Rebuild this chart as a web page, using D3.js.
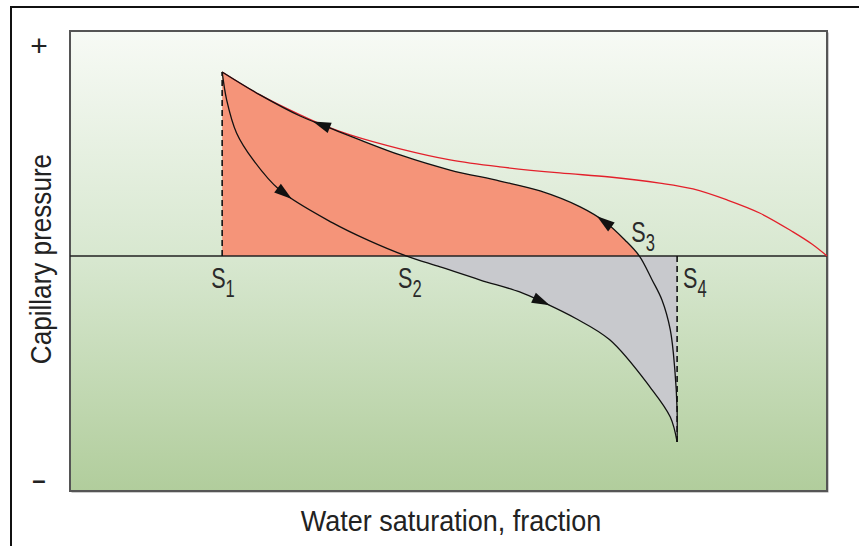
<!DOCTYPE html>
<html>
<head>
<meta charset="utf-8">
<script src="https://cdn.jsdelivr.net/npm/d3@7"></script>
<style>
  body { margin: 0; background: #fff; }
  svg { display: block; font-family: "Liberation Sans", Arial, sans-serif; }
</style>
</head>
<body>
<div id="chart"></div>
<script>
// saturation end points marked on the zero line
const satNames = ["1", "2", "3", "4"];
const satValues = [0.201, 0.444, 0.752, 0.802];

// [water saturation, capillary pressure] (pressure scaled to +-1)
const drainageCurve = [
  [0.201, 0.818], [0.251, 0.716], [0.304, 0.627], [0.337, 0.578], [0.370, 0.538],
  [0.436, 0.476], [0.502, 0.427], [0.568, 0.396], [0.647, 0.369], [0.713, 0.351],
  [0.779, 0.324], [0.823, 0.298], [0.868, 0.249], [0.911, 0.191], [0.955, 0.107],
  [0.980, 0.053], [1.000, 0.000]
];
const upperCurve = [
  [0.201, 0.818], [0.251, 0.716], [0.304, 0.622], [0.343, 0.569], [0.383, 0.516],
  [0.436, 0.449], [0.502, 0.382], [0.568, 0.333], [0.621, 0.289], [0.674, 0.218],
  [0.707, 0.151], [0.733, 0.071], [0.752, 0.000], [0.769, -0.107], [0.782, -0.196],
  [0.793, -0.329], [0.799, -0.507], [0.802, -0.684], [0.802, -0.827]
];
const lowerCurve = [
  [0.201, 0.818], [0.207, 0.693], [0.220, 0.547], [0.242, 0.427], [0.277, 0.293],
  [0.347, 0.147], [0.395, 0.068], [0.444, 0.000], [0.489, -0.049],
  [0.542, -0.107], [0.594, -0.160], [0.627, -0.209], [0.667, -0.276], [0.713, -0.373],
  [0.766, -0.582], [0.793, -0.716], [0.802, -0.827]
];

// arrow heads: which curve, tip saturation, direction along the curve
const arrowCurves = ["upper", "upper", "lower", "lower"];
const arrowSw = [0.321, 0.696, 0.293, 0.634];
const arrowDir = [-1, -1, 1, 1];

const width = 859, height = 546;
const svg = d3.select("#chart").append("svg")
  .attr("width", width)
  .attr("height", height);

const x = d3.scaleLinear().domain([0, 1]).range([70, 827]);
const y = d3.scaleLinear().domain([-1.045, 1]).range([491, 31]);

const defs = svg.append("defs");
const grad = defs.append("linearGradient").attr("id", "bg")
  .attr("x1", 0).attr("y1", 0).attr("x2", 0).attr("y2", 1);
grad.append("stop").attr("offset", "0%").attr("stop-color", "#f7faf5");
grad.append("stop").attr("offset", "50%").attr("stop-color", "#d7e7cf");
grad.append("stop").attr("offset", "100%").attr("stop-color", "#b1cd9c");

// outer frame (only top and left edges are inside the picture)
svg.append("path")
  .attr("d", "M11,546 V7 H859")
  .attr("fill", "none")
  .attr("stroke", "#111")
  .attr("stroke-width", 2);

// plot box
svg.append("rect")
  .attr("x", x(0) + 1.5).attr("y", y(1) + 1.5)
  .attr("width", x(1) - x(0)).attr("height", y(-1.045) - y(1))
  .attr("fill", "#9a9a9a");
svg.append("rect")
  .attr("x", x(0)).attr("y", y(1))
  .attr("width", x(1) - x(0)).attr("height", y(-1.045) - y(1))
  .attr("fill", "url(#bg)")
  .attr("stroke", "#555")
  .attr("stroke-width", 2);

const line = d3.line()
  .x(d => x(d[0]))
  .y(d => y(d[1]))
  .curve(d3.curveCatmullRom.alpha(0.5));

// salmon area: upper curve above zero, closed along zero line and S1
const upperPos = upperCurve.filter(d => d[1] >= 0);
svg.append("path")
  .attr("d", line(upperPos) + `L${x(satValues[0])},${y(0)}Z`)
  .attr("fill", "#f59479");

// grey area: lower curve below zero, closed by S4 and the zero line
const lowerNeg = lowerCurve.filter(d => d[1] <= 0);
svg.append("path")
  .attr("d", line(lowerNeg) + `L${x(satValues[3])},${y(0)}Z`)
  .attr("fill", "#c8c9cd");

// zero line
svg.append("line")
  .attr("x1", x(0)).attr("x2", x(1))
  .attr("y1", y(0)).attr("y2", y(0))
  .attr("stroke", "#222")
  .attr("stroke-width", 1.5);

// dashed verticals at S1 and S4
svg.append("line")
  .attr("x1", x(satValues[0])).attr("x2", x(satValues[0]))
  .attr("y1", y(0)).attr("y2", y(upperCurve[0][1]))
  .attr("stroke", "#111").attr("stroke-width", 1.6)
  .attr("stroke-dasharray", "6,4");
svg.append("line")
  .attr("x1", x(satValues[3])).attr("x2", x(satValues[3]))
  .attr("y1", y(0)).attr("y2", y(lowerCurve[lowerCurve.length - 1][1]))
  .attr("stroke", "#111").attr("stroke-width", 1.6)
  .attr("stroke-dasharray", "6,4");

// curves
svg.append("path").attr("d", line(drainageCurve))
  .attr("fill", "none").attr("stroke", "#e3202b").attr("stroke-width", 1.3);
const paths = {};
paths.upper = svg.append("path").attr("d", line(upperCurve))
  .attr("fill", "none").attr("stroke", "#111").attr("stroke-width", 1.3);
paths.lower = svg.append("path").attr("d", line(lowerCurve))
  .attr("fill", "none").attr("stroke", "#111").attr("stroke-width", 1.3);

// arrow heads placed on the drawn curves
arrowSw.forEach((sw, i) => {
  const node = paths[arrowCurves[i]].node();
  const total = node.getTotalLength();
  const tx = x(sw);
  let best = 0, bestD = Infinity;
  for (let l = 0; l <= total; l += 0.5) {
    const p = node.getPointAtLength(l);
    const d = Math.abs(p.x - tx);
    if (d < bestD) { bestD = d; best = l; }
  }
  const len = 18, half = 5.5;
  const tip = node.getPointAtLength(best);
  const base = node.getPointAtLength(Math.max(0, Math.min(total, best - arrowDir[i] * len)));
  const dx = tip.x - base.x, dy = tip.y - base.y;
  const n = Math.hypot(dx, dy) || 1;
  const px = -dy / n * half, py = dx / n * half;
  svg.append("path")
    .attr("d", `M${tip.x},${tip.y}L${base.x + px},${base.y + py}L${base.x - px},${base.y - py}Z`)
    .attr("fill", "#111");
});

// S labels (condensed look by squeezing the text horizontally)
const labelDx = [-11, -8, -8, 6];
const labelY = [288, 288, 242, 288];
satValues.forEach((v, i) => {
  const t = svg.append("text")
    .attr("transform", `translate(${x(v) + labelDx[i]},${labelY[i]}) scale(0.72,1)`)
    .attr("fill", "#2a2a2a")
    .style("font-size", "30px");
  t.append("tspan").text("S");
  t.append("tspan").attr("dy", 9).style("font-size", "23px").text(satNames[i]);
});

// axis signs and titles
svg.append("text").attr("x", 39).attr("y", 56)
  .attr("text-anchor", "middle").attr("fill", "#222")
  .style("font-size", "30px").text("+");
svg.append("text").attr("x", 39).attr("y", 488)
  .attr("text-anchor", "middle").attr("fill", "#222")
  .style("font-size", "24px").style("font-weight", "bold").text("\u2013");
svg.append("text")
  .attr("transform", "translate(51,259) rotate(-90) scale(0.87,1)")
  .attr("text-anchor", "middle").attr("fill", "#222")
  .style("font-size", "30px").text("Capillary pressure");
svg.append("text")
  .attr("transform", "translate(451,531) scale(0.9,1)")
  .attr("text-anchor", "middle").attr("fill", "#222")
  .style("font-size", "30px").text("Water saturation, fraction");
</script>
</body>
</html>
